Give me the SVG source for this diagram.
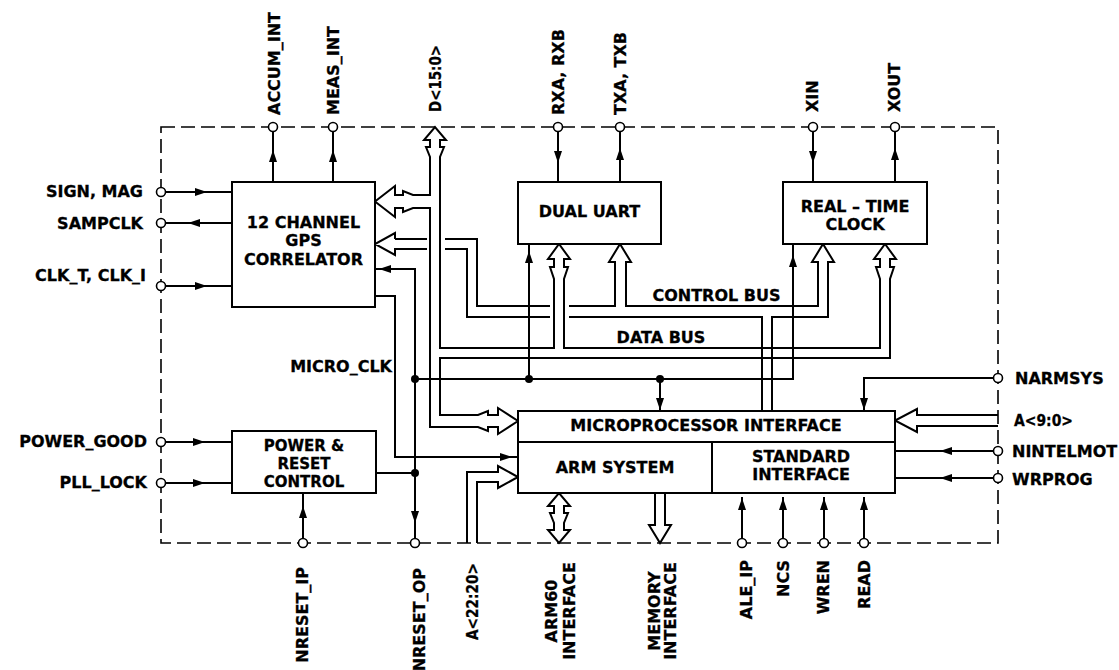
<svg xmlns="http://www.w3.org/2000/svg" xmlns:xlink="http://www.w3.org/1999/xlink" width="1119" height="670" viewBox="0 0 1119 670">
<style>
.ln{fill:none;stroke:#000;stroke-width:2}
.bus{fill:none;stroke:#000;stroke-width:2;stroke-linejoin:miter}
.bx{fill:#fff;stroke:#000;stroke-width:2}
.pin{fill:#fff;stroke:#000;stroke-width:1.6}
.dot{fill:#000}
.t{font-family:"DejaVu Sans","Liberation Sans",sans-serif;font-weight:bold;font-size:16px;fill:#000;stroke:#000;stroke-width:0.3}
.s{font-size:15px}
.m{text-anchor:middle}
.e{text-anchor:end}
</style>
<defs>
<path id="ah" d="M0,0 L-12,-4 L-12,4 Z" fill="#000"/>
</defs>
<rect width="1119" height="670" fill="#fff"/>
<rect x="161" y="127" width="837" height="416" fill="none" stroke="#000" stroke-width="1.6" stroke-dasharray="14 6"/>

<g id="connectors">
  <!-- signal lines -->
  <path class="ln" d="M273,182V127 M333,182V127 M558,127V182 M620,182V127 M813,127V182 M895,182V127"/>
  <path class="ln" d="M161,192H232 M232,223H161 M161,286H232 M161,442H232 M161,483H232"/>
  <path class="ln" d="M303,543V493 M376,473H415 M375,269H415V543 M375,296H395V457H518"/>
  <path class="ln" d="M415,379H793V244 M529,379V244 M660,379V411 M998,378H864V411 M998,451H895 M998,478H895"/>
  <path class="ln" d="M742,543V497 M783,543V497 M824,543V497 M864,543V497"/>
  <g>
    <use xlink:href="#ah" transform="translate(273,150) rotate(-90)"/>
    <use xlink:href="#ah" transform="translate(333,150) rotate(-90)"/>
    <use xlink:href="#ah" transform="translate(558,163) rotate(90)"/>
    <use xlink:href="#ah" transform="translate(620,148) rotate(-90)"/>
    <use xlink:href="#ah" transform="translate(813,163) rotate(90)"/>
    <use xlink:href="#ah" transform="translate(895,148) rotate(-90)"/>
    <use xlink:href="#ah" transform="translate(207,192)"/>
    <use xlink:href="#ah" transform="translate(188,223) rotate(180)"/>
    <use xlink:href="#ah" transform="translate(207,286)"/>
    <use xlink:href="#ah" transform="translate(205,442)"/>
    <use xlink:href="#ah" transform="translate(205,483)"/>
    <use xlink:href="#ah" transform="translate(303,506) rotate(-90)"/>
    <use xlink:href="#ah" transform="translate(379,269) rotate(180)"/>
    <use xlink:href="#ah" transform="translate(415,523) rotate(90)"/>
    <use xlink:href="#ah" transform="translate(512,457)"/>
    <use xlink:href="#ah" transform="translate(793,255) rotate(-90)"/>
    <use xlink:href="#ah" transform="translate(529,251) rotate(-90)"/>
    <use xlink:href="#ah" transform="translate(660,410) rotate(90)"/>
    <use xlink:href="#ah" transform="translate(864,410) rotate(90)"/>
    <use xlink:href="#ah" transform="translate(940,451) rotate(180)"/>
    <use xlink:href="#ah" transform="translate(940,478) rotate(180)"/>
    <use xlink:href="#ah" transform="translate(742,498) rotate(-90)"/>
    <use xlink:href="#ah" transform="translate(783,498) rotate(-90)"/>
    <use xlink:href="#ah" transform="translate(824,498) rotate(-90)"/>
    <use xlink:href="#ah" transform="translate(864,498) rotate(-90)"/>
  </g>
  <g>
    <circle class="dot" cx="415" cy="379" r="4"/>
    <circle class="dot" cx="415" cy="473" r="4"/>
    <circle class="dot" cx="529" cy="379" r="4"/>
    <circle class="dot" cx="660" cy="379" r="4"/>
  </g>
  <!-- D<15:0> / data bus -->
  <path class="bus" d="M440,157V348H554V279L550,267H554V259H548L559,244L570,259H564V267H568L564,279V348H880V279L876,267H880V259H874L885,244L896,259H890V267H894L890,279V358H440V415H478L488,411V415H498V408L518,421L498,434V427H488V431L478,427H430V208H413L403,212V208H395V217L375,201.5L395,186V195H403V191L413,195H430V157L426,147H430V140H424L435,127L446,140H440V147H444Z"/>
  <!-- control bus -->
  <path class="bus" d="M395,239H427 M445,239H477V306H550 M569,306H615V262H609L620,244L631,262H626V306H818V262H812L823,244L834,262H828V317H772V411 M762,411V317H569 M550,317H467V249H445 M427,249H395V255L375,244L395,233V239"/>
  <!-- A<22:20> -->
  <path class="bus" d="M467,543V472H498V466L518,477L498,488V482H477V543"/>
  <!-- A<9:0> -->
  <path class="bus" d="M998,415H917V409L895,420.5L917,432V426H998"/>
  <!-- ARM60 interface -->
  <path class="bus" d="M554,506H548L559,493L570,506H564V513H568L564,523V530H570L559,543L548,530H554V523L550,513H554Z"/>
  <!-- memory interface -->
  <path class="bus" d="M655,493V525H649L660,543L671,525H665V493"/>
</g>

<g id="gps-correlator">
  <rect class="bx" x="232" y="182" width="143" height="125"/>
  <text class="t m" x="303.5" y="228">12 CHANNEL</text>
  <text class="t m" x="303.5" y="246">GPS</text>
  <text class="t m" x="303.5" y="265">CORRELATOR</text>
</g>
<g id="power-reset">
  <rect class="bx" x="232" y="431" width="144" height="62"/>
  <text class="t s m" x="304" y="451">POWER &amp;</text>
  <text class="t s m" x="304" y="469">RESET</text>
  <text class="t s m" x="304" y="487">CONTROL</text>
</g>
<g id="dual-uart">
  <rect class="bx" x="518" y="182" width="143" height="62"/>
  <text class="t m" x="589.5" y="217">DUAL UART</text>
</g>
<g id="rtc">
  <rect class="bx" x="783" y="182" width="144" height="62"/>
  <text class="t m" x="855" y="212">REAL – TIME</text>
  <text class="t m" x="855" y="230">CLOCK</text>
</g>
<g id="microprocessor-interface">
  <rect class="bx" x="518" y="411" width="377" height="82"/>
  <path class="ln" d="M518,442H895 M712,442V493"/>
  <text class="t m" x="706" y="431">MICROPROCESSOR INTERFACE</text>
</g>
<g id="arm-system">
  <text class="t m" x="615" y="473">ARM SYSTEM</text>
</g>
<g id="standard-interface">
  <text class="t m" x="801" y="462">STANDARD</text>
  <text class="t m" x="801" y="480">INTERFACE</text>
</g>

<g id="bus-labels">
  <text class="t m" x="716.5" y="301">CONTROL BUS</text>
  <text class="t m" x="661" y="343">DATA BUS</text>
  <text class="t e" x="392" y="372">MICRO_CLK</text>
</g>

<g id="pins">
  <circle class="pin" cx="273" cy="127" r="4.5"/>
  <circle class="pin" cx="333" cy="127" r="4.5"/>
  <circle class="pin" cx="558" cy="127" r="4.5"/>
  <circle class="pin" cx="620" cy="127" r="4.5"/>
  <circle class="pin" cx="813" cy="127" r="4.5"/>
  <circle class="pin" cx="895" cy="127" r="4.5"/>
  <circle class="pin" cx="161" cy="192" r="4.5"/>
  <circle class="pin" cx="161" cy="223" r="4.5"/>
  <circle class="pin" cx="161" cy="286" r="4.5"/>
  <circle class="pin" cx="161" cy="442" r="4.5"/>
  <circle class="pin" cx="161" cy="483" r="4.5"/>
  <circle class="pin" cx="303" cy="543" r="4.5"/>
  <circle class="pin" cx="415" cy="543" r="4.5"/>
  <circle class="pin" cx="742" cy="543" r="4.5"/>
  <circle class="pin" cx="783" cy="543" r="4.5"/>
  <circle class="pin" cx="824" cy="543" r="4.5"/>
  <circle class="pin" cx="864" cy="543" r="4.5"/>
  <circle class="pin" cx="998" cy="378" r="4.5"/>
  <circle class="pin" cx="998" cy="451" r="4.5"/>
  <circle class="pin" cx="998" cy="478" r="4.5"/>
</g>

<g id="pin-labels">
  <text class="t" transform="translate(280,115) rotate(-90)">ACCUM_INT</text>
  <text class="t" transform="translate(339,115) rotate(-90)">MEAS_INT</text>
  <text class="t" transform="translate(441,112) rotate(-90)" textLength="67" lengthAdjust="spacingAndGlyphs">D&lt;15:0&gt;</text>
  <text class="t" transform="translate(564,115) rotate(-90)">RXA, RXB</text>
  <text class="t" transform="translate(626,115) rotate(-90)">TXA, TXB</text>
  <text class="t" transform="translate(818,112) rotate(-90)">XIN</text>
  <text class="t" transform="translate(900,112) rotate(-90)">XOUT</text>

  <text class="t e" x="143" y="197">SIGN, MAG</text>
  <text class="t e" x="143" y="229">SAMPCLK</text>
  <text class="t e" x="146" y="281">CLK_T, CLK_I</text>
  <text class="t e" x="147" y="447">POWER_GOOD</text>
  <text class="t e" x="147" y="488">PLL_LOCK</text>

  <text class="t" x="1015" y="384">NARMSYS</text>
  <text class="t" x="1014" y="426" textLength="59" lengthAdjust="spacingAndGlyphs">A&lt;9:0&gt;</text>
  <text class="t" x="1012" y="457">NINTELMOT</text>
  <text class="t" x="1012" y="485">WRPROG</text>

  <text class="t e" transform="translate(308,567) rotate(-90)">NRESET_IP</text>
  <text class="t e" transform="translate(425,568) rotate(-90)">NRESET_OP</text>
  <text class="t e" transform="translate(478,563) rotate(-90)" textLength="77" lengthAdjust="spacingAndGlyphs">A&lt;22:20&gt;</text>
  <text class="t m" transform="translate(557,611) rotate(-90)">ARM60</text>
  <text class="t m" transform="translate(575,611) rotate(-90)">INTERFACE</text>
  <text class="t m" transform="translate(660,611) rotate(-90)">MEMORY</text>
  <text class="t m" transform="translate(676,611) rotate(-90)">INTERFACE</text>
  <text class="t e" transform="translate(752,560) rotate(-90)">ALE_IP</text>
  <text class="t e" transform="translate(789,560) rotate(-90)">NCS</text>
  <text class="t e" transform="translate(829,560) rotate(-90)">WREN</text>
  <text class="t e" transform="translate(870,560) rotate(-90)">READ</text>
</g>
</svg>
